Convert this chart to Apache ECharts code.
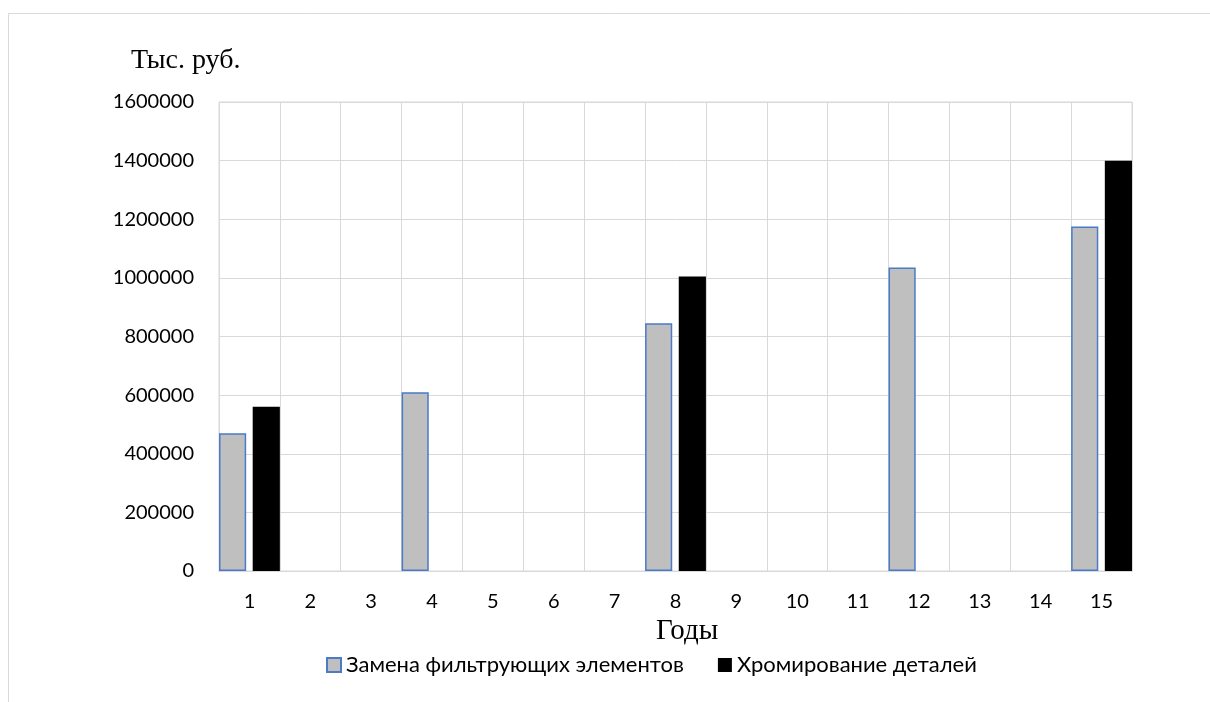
<!DOCTYPE html>
<html>
<head>
<meta charset="utf-8">
<script src="https://cdn.jsdelivr.net/npm/echarts@6/dist/echarts.min.js"></script>
<style>
  html, body { margin: 0; padding: 0; background: #fff; }
  #chart { width: 1210px; height: 702px; }
</style>
</head>
<body>
<div id="chart"></div>
<script>
// Years on the horizontal axis
const years = ['1', '2', '3', '4', '5', '6', '7', '8', '9', '10', '11', '12', '13', '14', '15'];

// Costs, thousand roubles (empty years have no bar)
const filterReplacement = [470000, null, null, 610000, null, null, null, 845000, null, null, null, 1035000, null, null, 1175000];
const chromePlating = [560000, null, null, null, null, null, null, 1005000, null, null, null, null, null, null, 1400000];

const seriesNames = ['Замена фильтрующих элементов', 'Хромирование деталей'];
const yUnit = 'Тыс. руб.';
const xTitle = 'Годы';

const chart = echarts.init(document.getElementById('chart'));
const gridColor = '#d9d9d9';
const labelFont = 'Lato, "Open Sans", sans-serif';

chart.setOption({
  animation: false,
  backgroundColor: '#ffffff',
  graphic: [
    {
      type: 'rect',
      z: -10,
      shape: { x: 8.5, y: 13.5, width: 1400, height: 900 },
      style: { fill: 'none', stroke: gridColor, lineWidth: 1 }
    },
    {
      type: 'text',
      left: 131,
      top: 47,
      style: { text: yUnit, font: '28px "Liberation Serif", serif', fill: '#000' }
    },
    {
      type: 'text',
      left: 656,
      top: 617,
      style: { text: xTitle, font: '29px "Liberation Serif", serif', fill: '#000' }
    }
  ],
  legend: {
    left: 326,
    top: 654,
    padding: 0,
    itemWidth: 14,
    itemHeight: 14,
    itemGap: 34,
    icon: 'rect',
    textStyle: { fontFamily: labelFont, fontSize: 22, color: '#000' },
    data: seriesNames
  },
  grid: {
    left: 219,
    right: 78,
    top: 102,
    bottom: 131,
    show: true,
    borderColor: gridColor,
    borderWidth: 1
  },
  xAxis: {
    type: 'category',
    data: years,
    boundaryGap: true,
    axisLine: { show: true, lineStyle: { color: gridColor, width: 1 } },
    axisTick: { show: false },
    splitLine: { show: true, lineStyle: { color: gridColor, width: 1 } },
    axisLabel: { margin: 21, fontFamily: labelFont, fontSize: 20, color: '#000' }
  },
  yAxis: {
    type: 'value',
    min: 0,
    max: 1600000,
    interval: 200000,
    axisLine: { show: false },
    axisTick: { show: false },
    splitLine: { show: true, lineStyle: { color: gridColor, width: 1 } },
    axisLabel: {
      margin: 25,
      fontFamily: labelFont,
      fontSize: 20,
      color: '#000',
      formatter: (v) => String(v)
    }
  },
  series: [
    {
      name: seriesNames[0],
      type: 'bar',
      data: filterReplacement,
      barGap: '24%',
      barCategoryGap: '0%',
      itemStyle: { color: '#bfbfbf', borderColor: '#4a7ac8', borderWidth: 1.5 }
    },
    {
      name: seriesNames[1],
      type: 'bar',
      data: chromePlating,
      barGap: '24%',
      barCategoryGap: '0%',
      itemStyle: { color: '#000000', borderColor: '#000000', borderWidth: 0 }
    }
  ]
});
</script>
</body>
</html>
